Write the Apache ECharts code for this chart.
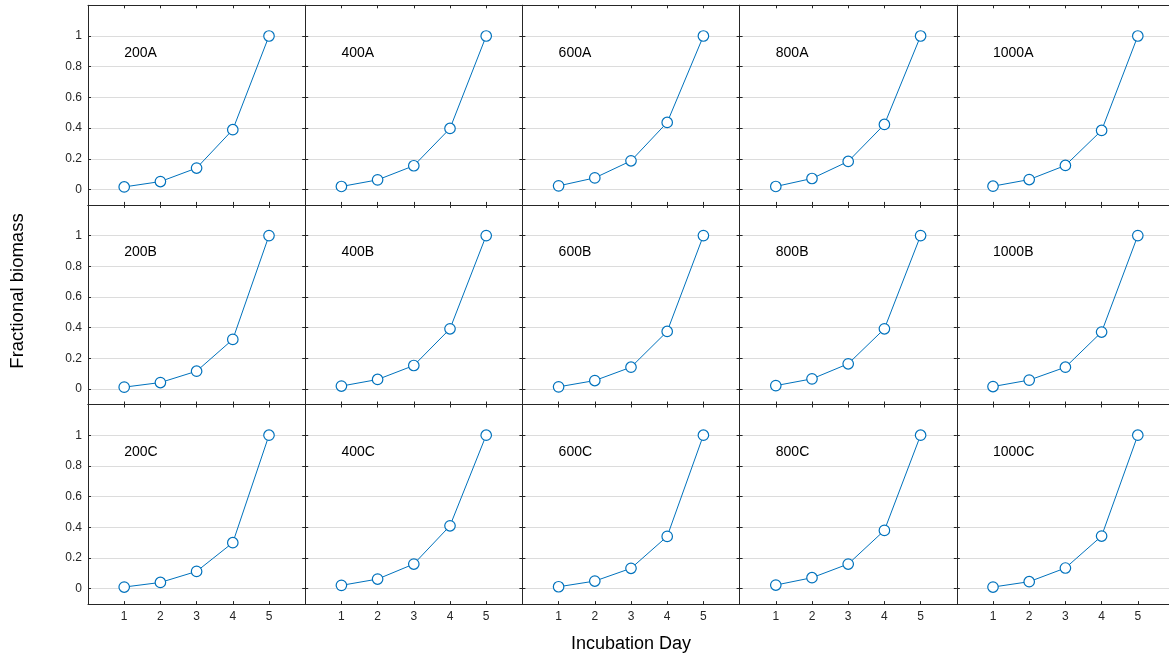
<!DOCTYPE html>
<html>
<head>
<meta charset="utf-8">
<script src="https://cdn.jsdelivr.net/npm/echarts@6/dist/echarts.min.js"></script>
<style>
  html, body { margin: 0; padding: 0; background: #fff; }
  #chart { width: 1169px; height: 657px; }
</style>
</head>
<body>
<div id="chart"></div>
<script>
// Incubation days and tick values
const days = [1, 2, 3, 4, 5];
const xTicks = [1, 2, 3, 4, 5];
const yTicks = [0, 0.2, 0.4, 0.6, 0.8, 1];
const doses = ['200', '400', '600', '800', '1000'];
const replicates = ['A', 'B', 'C'];

// Fractional biomass per dose / replicate
const b200A  = [0.017, 0.052, 0.140, 0.390, 1];
const b400A  = [0.020, 0.063, 0.155, 0.398, 1];
const b600A  = [0.024, 0.076, 0.187, 0.437, 1];
const b800A  = [0.020, 0.072, 0.183, 0.424, 1];
const b1000A = [0.022, 0.065, 0.157, 0.385, 1];
const b200B  = [0.013, 0.043, 0.117, 0.324, 1];
const b400B  = [0.020, 0.063, 0.154, 0.393, 1];
const b600B  = [0.015, 0.056, 0.143, 0.376, 1];
const b800B  = [0.023, 0.067, 0.165, 0.393, 1];
const b1000B = [0.017, 0.059, 0.143, 0.372, 1];
const b200C  = [0.011, 0.041, 0.113, 0.300, 1];
const b400C  = [0.022, 0.063, 0.161, 0.410, 1];
const b600C  = [0.013, 0.050, 0.133, 0.341, 1];
const b800C  = [0.024, 0.072, 0.161, 0.380, 1];
const b1000C = [0.011, 0.046, 0.135, 0.343, 1];

const panels = {
  '200A': b200A, '400A': b400A, '600A': b600A, '800A': b800A, '1000A': b1000A,
  '200B': b200B, '400B': b400B, '600B': b600B, '800B': b800B, '1000B': b1000B,
  '200C': b200C, '400C': b400C, '600C': b600C, '800C': b800C, '1000C': b1000C
};

// Layout of the 5 x 3 panel grid (pixels)
const LEFT = 88, TOP = 5.3, CELL_W = 217.2, CELL_H = 199.6;
const X_MIN = 0, X_MAX = 6, Y_MIN = -0.1, Y_MAX = 1.2;
const LABEL_AT = [1, 0.89];

const FONT = '"Liberation Sans", Arial, Helvetica, sans-serif';
const AXIS_COLOR = '#262626';
const GRID_COLOR = '#dcdcdc';
const LINE_COLOR = '#0072BD';

const grids = [], xAxes = [], yAxes = [], series = [];

replicates.forEach((rep, r) => {
  doses.forEach((dose, c) => {
    const i = grids.length;
    const name = dose + rep;
    grids.push({
      left: LEFT + c * CELL_W, top: TOP + r * CELL_H,
      width: CELL_W, height: CELL_H,
      containLabel: false, outerBoundsMode: 'none'
    });
    const axisLine = { show: true, onZero: false, lineStyle: { color: AXIS_COLOR, width: 1 } };
    const tick = (vals) => ({ show: true, inside: true, length: 3, customValues: vals,
      lineStyle: { color: AXIS_COLOR, width: 1 } });
    const isBottom = r === replicates.length - 1;
    const isMidBottom = isBottom && c === 2;
    xAxes.push({
      gridIndex: i, type: 'value', position: 'bottom', min: X_MIN, max: X_MAX,
      axisLine, axisTick: tick(xTicks), splitLine: { show: false },
      axisLabel: { show: isBottom, customValues: xTicks, margin: 7,
        fontFamily: FONT, fontSize: 12, color: '#262626' },
      name: isMidBottom ? 'Incubation Day' : '', nameLocation: 'middle', nameGap: 31,
      nameTextStyle: { fontFamily: FONT, fontSize: 18, color: '#000' }
    });
    xAxes.push({
      gridIndex: i, type: 'value', position: 'top', min: X_MIN, max: X_MAX,
      axisLine, axisTick: tick(xTicks), splitLine: { show: false }, axisLabel: { show: false }
    });
    yAxes.push({
      gridIndex: i, type: 'value', position: 'left', min: Y_MIN, max: Y_MAX,
      axisLine, axisTick: tick(yTicks),
      splitLine: { show: true, lineStyle: { color: GRID_COLOR, width: 1 } },
      axisLabel: { show: c === 0, customValues: yTicks, margin: 6,
        fontFamily: FONT, fontSize: 12, color: '#262626' }
    });
    yAxes.push({
      gridIndex: i, type: 'value', position: 'right', min: Y_MIN, max: Y_MAX,
      axisLine, axisTick: tick(yTicks), splitLine: { show: false }, axisLabel: { show: false }
    });
    series.push({
      type: 'line', name, xAxisIndex: 2 * i, yAxisIndex: 2 * i,
      data: days.map((d, k) => [d, panels[name][k]]),
      symbol: 'circle', symbolSize: 10.5,
      itemStyle: { color: '#ffffff', borderColor: LINE_COLOR, borderWidth: 1.2 },
      lineStyle: { color: LINE_COLOR, width: 1 },
      emphasis: { disabled: true }, silent: true,
      markPoint: {
        silent: true, symbol: 'rect', symbolSize: 0,
        data: [{ coord: LABEL_AT, name }],
        label: { show: true, position: [0, 0], align: 'left', verticalAlign: 'middle',
          formatter: name, fontFamily: FONT, fontSize: 14, color: '#000' }
      }
    });
  });
});

const chart = echarts.init(document.getElementById('chart'), null, { renderer: 'canvas' });
chart.setOption({
  animation: false,
  backgroundColor: '#ffffff',
  grid: grids, xAxis: xAxes, yAxis: yAxes, series,
  graphic: [{
    type: 'text', x: 18, y: 291, rotation: Math.PI / 2,
    style: { text: 'Fractional biomass', font: '18.5px ' + FONT, fill: '#000',
      align: 'center', verticalAlign: 'middle' }
  }]
});
</script>
</body>
</html>
